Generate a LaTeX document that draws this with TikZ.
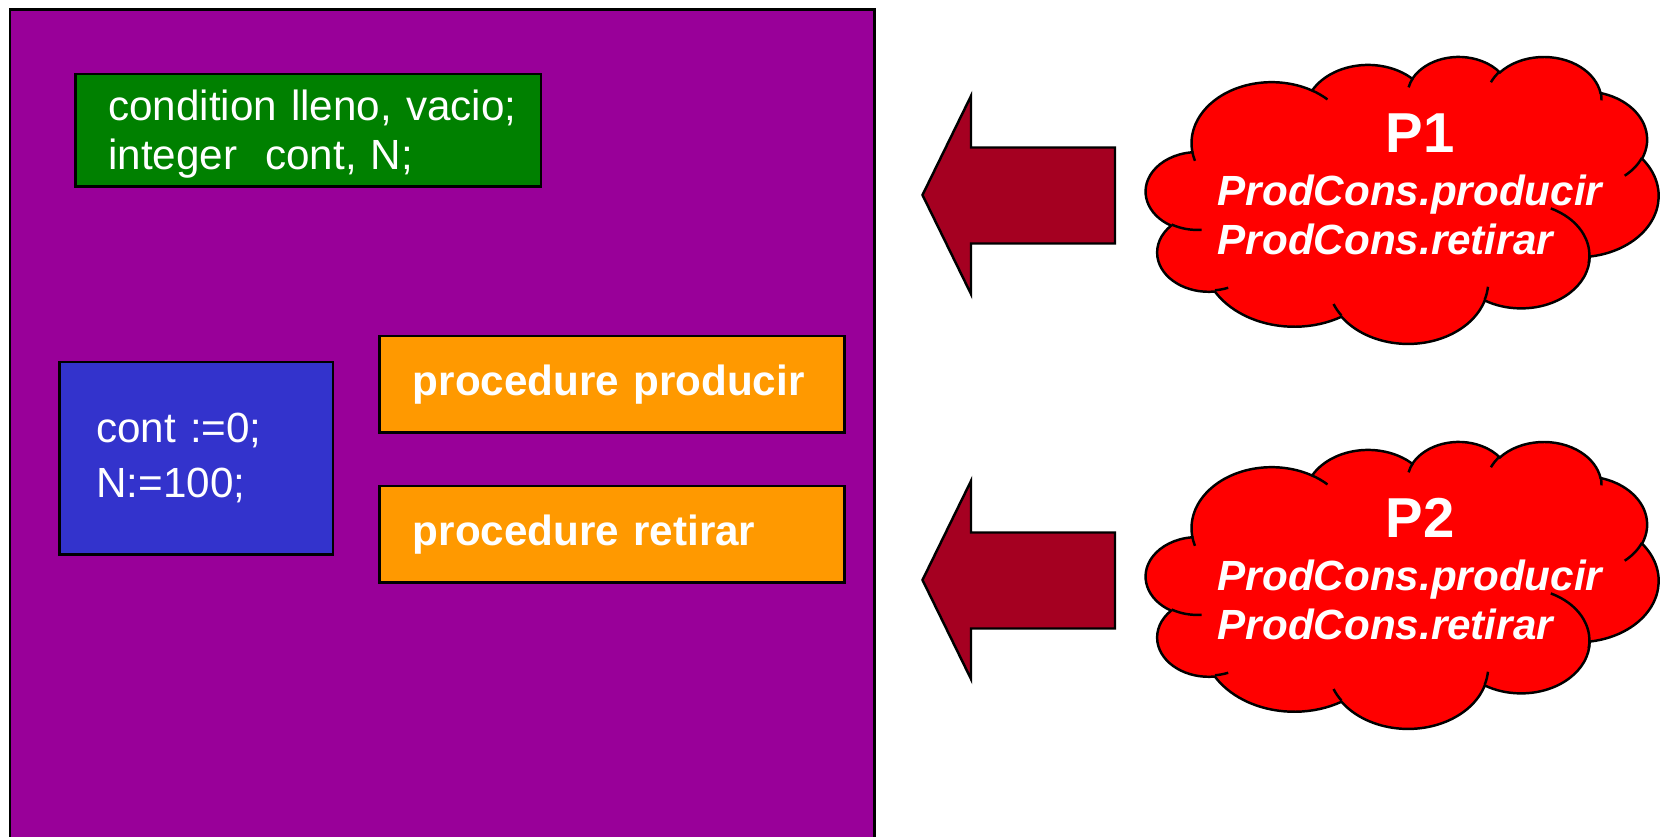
\documentclass[tikz,border=0pt]{standalone}
\usepackage{fontspec}
\setmainfont{Liberation Sans}
\usetikzlibrary{positioning}
\definecolor{monPurple}{HTML}{990099}
\definecolor{declGreen}{HTML}{008000}
\definecolor{initBlue}{HTML}{3333CC}
\definecolor{procOrange}{HTML}{FF9900}
\definecolor{callRed}{HTML}{A50021}
\definecolor{procRed}{HTML}{FF0000}
\tikzset{
  every node/.style={font=\fontsize{12}{14}\selectfont, text=white, inner sep=0pt},
  monitor/.style={fill=monPurple, draw=black, line width=0.6pt},
  codebox/.style={draw=black, line width=0.7pt, anchor=north west, align=left, inner ysep=0pt},
  declbox/.style={codebox, fill=declGreen, minimum width=4.65cm, minimum height=1.123cm,
                  inner xsep=0.327cm, text width=3.996cm},
  initbox/.style={codebox, fill=initBlue, minimum width=2.734cm, minimum height=1.923cm,
                  inner xsep=0.367cm, text width=2.0cm, font=\fontsize{12}{15.6}\selectfont},
  procbox/.style={codebox, fill=procOrange, minimum width=4.647cm, minimum height=0.96cm,
                  inner xsep=0.334cm, text width=3.979cm, font=\fontsize{12}{14}\selectfont\bfseries},
  callarrow/.style={fill=callRed, draw=black, line width=0.7pt, line join=miter},
  cloudbody/.style={fill=procRed, draw=black, line width=0.7pt},
  cloudhint/.style={draw=black, line width=0.7pt},
  pname/.style={anchor=base, font=\fontsize{16}{19}\selectfont\bfseries},
  pcalls/.style={anchor=base west, align=left, font=\fontsize{12}{14.2}\selectfont\bfseries\itshape},
}
% cloud outline in a 432 x 432 frame, arcs given by visual angles
\newcommand{\ppcloud}[1]{%
  \begin{scope}[shift={#1}, x=0.011852cm, y=-0.006644cm]
    \filldraw[cloudbody] (39,143.7)
      \foreach \rw/\rh/\sa/\da in {67.53/91.90/-190.487/123.781, 53.33/72.67/-144.102/89.945,
          43.65/59.45/-145.808/99.723, 48.57/65.95/-130.986/117.242, 53.33/72.73/-78.709/109.027,
          67.75/92.20/-46.267/130.269, 57.85/78.67/0.625/114.033, 67.52/92.15/22.452/115.173,
          77.20/105.43/66.243/75.711, 43.60/59.18/-274.942/146.736, 43.45/59.45/-246.829/152.519}
        { arc[x radius=\rw, y radius=\rh,
              start angle={atan2(\rw*sin(\sa),\rh*cos(\sa))},
              delta angle={mod(atan2(\rw*sin(\sa+\da),\rh*cos(\sa+\da))-atan2(\rw*sin(\sa),\rh*cos(\sa))+720,360)}] }
      -- cycle;
    \foreach \hx/\hy/\rw/\rh/\sa/\da in {46.93/261.77/43.45/59.45/86.742/26.430,
        69.28/348.99/43.60/59.18/73.610/11.447, 164.78/390.90/67.52/92.15/137.624/14.081,
        288.27/347.51/67.52/92.15/6.453/15.998, 341.29/229.54/57.85/78.67/-70.292/81.582,
        417.98/153.54/53.33/72.73/30.318/27.752, 383.24/54.26/48.57/65.95/-13.744/14.859,
        290.78/39.52/48.57/65.95/-149.181/18.195, 221.41/47.20/43.65/59.45/-163.494/17.686,
        140.00/51.92/67.53/91.90/-66.707/12.319, 41.27/157.89/67.53/91.90/157.654/11.858}
      \draw[cloudhint] (\hx,\hy) arc[x radius=\rw, y radius=\rh,
              start angle={atan2(\rw*sin(\sa),\rh*cos(\sa))},
              delta angle={mod(atan2(\rw*sin(\sa+\da),\rh*cos(\sa+\da))-atan2(\rw*sin(\sa),\rh*cos(\sa))+720,360)}];
  \end{scope}}

\begin{document}
\begin{tikzpicture}[x=0.01cm, y=-0.01cm]
  \useasboundingbox (0,0) rectangle (1668,837);
  % the monitor
  \filldraw[monitor] (10,837) |- (874.5,9.5) -- (874.5,837);
  \node[declbox] (decl) at (74.3,72.7)
    {\rule{0pt}{0.38cm}\mbox{condition lleno, vacio;}\\integer\ \ cont, N;};
  \node[initbox] (init) at (58.3,360.7) {cont :=0;\\N:=100;};
  \node[procbox] (prod) at (378.3,335) {procedure producir};
  \node[procbox] (retr) at (378.3,485) {procedure retirar};
  % calls into the monitor
  \draw[callarrow] (1115,147.5) -- ++(-144,0) -- ++(0,-51.5) -- ++(-48.5,99)
    -- ++(48.5,99) -- ++(0,-50.5) -- ++(144,0) -- cycle;
  \draw[callarrow] (1115,532.5) -- ++(-144,0) -- ++(0,-51.5) -- ++(-48.5,99)
    -- ++(48.5,99) -- ++(0,-50.5) -- ++(144,0) -- cycle;
  % the processes
  \ppcloud{(1146,56)}
  \node[pname] (p1) at (1420,153) {P1};
  \node[pcalls] (p1calls) at (1217,255) {ProdCons.producir\\ProdCons.retirar};
  \ppcloud{(1146,441)}
  \node[pname] (p2) at (1420,538) {P2};
  \node[pcalls] (p2calls) at (1217,640) {ProdCons.producir\\ProdCons.retirar};
\end{tikzpicture}
\end{document}
